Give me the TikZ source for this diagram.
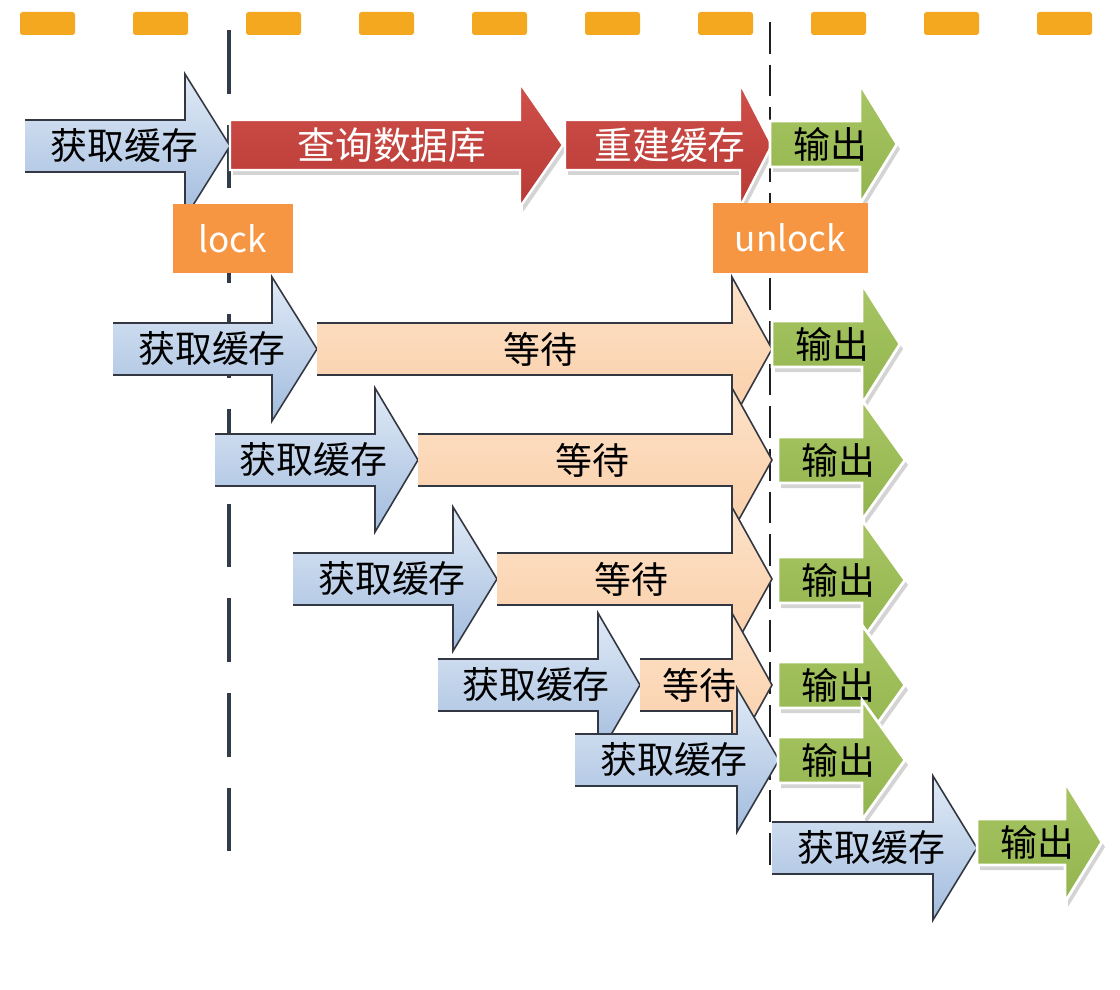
\documentclass[tikz,border=0pt]{standalone}
\usepackage{fontspec}
\setmainfont{Noto Sans CJK SC}
\definecolor{dashorange}{RGB}{243,168,32}
\definecolor{lockorange}{RGB}{246,150,66}
\definecolor{lineslate}{RGB}{50,60,72}
\definecolor{lineblack}{RGB}{30,32,38}
\definecolor{blueTop}{RGB}{224,234,246}
\definecolor{blueBot}{RGB}{162,188,222}
\definecolor{peachTop}{RGB}{253,226,200}
\definecolor{peachBot}{RGB}{250,206,168}
\definecolor{redTop}{RGB}{208,80,74}
\definecolor{redBot}{RGB}{184,58,54}
\definecolor{greenTop}{RGB}{168,198,100}
\definecolor{greenBot}{RGB}{146,180,78}
\definecolor{edgegrey}{RGB}{50,55,65}
% #1 tail x, #2 head base x, #3 tip x, #4 centre y, #5 shaft half, #6 head half, #7 style
\newcommand\arrowfill[7]{\path[#7] (#1,#4-#5) -- (#2,#4-#5) -- (#2,#4-#6) -- (#3,#4) -- (#2,#4+#6) -- (#2,#4+#5) -- (#1,#4+#5) -- cycle;}
\newcommand\arrowedge[7]{\draw[#7] (#1,#4-#5) -- (#2,#4-#5) -- (#2,#4-#6) -- (#3,#4) -- (#2,#4+#6) -- (#2,#4+#5) -- (#1,#4+#5);}
% blue "get cache" arrow: tail, base, tip, y, name
\newcommand\getcache[5]{%
  \arrowfill{#1}{#2}{#3}{#4}{26}{72}{bluefill}%
  \arrowedge{#1}{#2}{#3}{#4}{26}{72}{arrowline}%
  \node[cjk] (#5) at ({(#1+#3)/2-3},#4) {获取缓存};}
% peach "wait" arrow: tail, base, tip, y, text x, name
\newcommand\waitarrow[6]{%
  \arrowfill{#1}{#2}{#3}{#4}{26}{72}{peachfill}%
  \arrowedge{#1}{#2}{#3}{#4}{26}{72}{arrowline}%
  \node[cjk] (#6) at (#5,#4) {等待};}
% shiny arrow (red / green) with shadow and white rim
\newcommand\shinyarrow[7]{%
  \begin{scope}[shift={(3,5)}]\arrowfill{#1}{#2}{#3}{#4}{#5}{#6}{shadowfill}\end{scope}%
  \arrowfill{#1}{#2}{#3}{#4}{#5}{#6}{#7}}
\newcommand\outarrow[5]{%
  \shinyarrow{#1}{#2}{#3}{#4}{23}{60}{greenfill}%
  \node[cjk] (#5) at ({#1+60},#4) {输出};}
\begin{document}
\begin{tikzpicture}[x=0.02cm,y=-0.02cm,
  bluefill/.style={top color=blueTop,bottom color=blueBot},
  peachfill/.style={top color=peachTop,bottom color=peachBot},
  redfill/.style={top color=redTop,bottom color=redBot,draw=white,line width=1.4pt},
  greenfill/.style={top color=greenTop,bottom color=greenBot,draw=white,line width=1.6pt},
  shadowfill/.style={fill=black,opacity=0.17},
  arrowline/.style={draw=edgegrey,line width=0.9pt,line join=miter},
  cjk/.style={font=\fontsize{21}{21}\selectfont,inner sep=0pt,text=black},
  cjkw/.style={font=\fontsize{21.5}{21.5}\selectfont,inner sep=0pt,text=white},
  lockbox/.style={fill=lockorange,text=white,inner sep=0pt,font=\fontsize{20}{20}\selectfont},
  lockline/.style={draw=lineslate,line width=2.1pt,dash pattern=on 36.3pt off 17.6pt},
  unlockline/.style={draw=lineblack,line width=1.4pt,dash pattern=on 18.1pt off 6.2pt},
  topdash/.style={fill=dashorange,rounded corners=1.5pt}]
\fill[white] (0,0) rectangle (1120,990);
\useasboundingbox (0,0) rectangle (1120,990);
% top orange dashed band
\foreach \i in {0,...,9} \path[topdash] ({20+113*\i},12) rectangle ++(55,23);
% time markers
\coordinate (lockTop) at (229,30);
\coordinate (lockBot) at (229,854);
\coordinate (unlockTop) at (770,22);
\coordinate (unlockBot) at (770,874);
\draw[lockline] (lockTop) -- (lockBot);
\draw[unlockline] (unlockTop) -- (unlockBot);
% row 1
\getcache{25}{185}{230}{146}{g1}
\shinyarrow{230}{520}{563}{145}{25}{62}{redfill}
\node[cjkw] (q1) at (392,145) {查询数据库};
\shinyarrow{565}{740}{772}{145}{25}{62}{redfill}
\node[cjkw] (r1) at (670,145) {重建缓存};
\outarrow{770}{860}{897}{144}{o1}
% row 2
\getcache{113}{272}{317}{349}{g2}
\waitarrow{317}{732}{772}{349}{540}{w2}
\outarrow{772}{862}{900}{344}{o2}
% row 3
\getcache{215}{375}{418}{460}{g3}
\waitarrow{418}{732}{772}{460}{592}{w3}
\outarrow{778}{862}{905}{460}{o3}
% row 4
\getcache{293}{453}{497}{579}{g4}
\waitarrow{497}{732}{772}{579}{631}{w4}
\outarrow{778}{862}{905}{580}{o4}
% row 5
\getcache{438}{598}{640}{685}{g5}
\arrowfill{640}{732}{772}{685}{26}{72}{peachfill}
\arrowedge{640}{732}{772}{685}{26}{72}{arrowline}
\outarrow{778}{862}{905}{685}{o5}
% row 6
\getcache{575}{737}{779}{760}{g6}
\outarrow{778}{862}{905}{760}{o6}
\node[cjk] (w5) at (699,685) {等待};
% row 7
\getcache{772}{933}{977}{848}{g7}
\outarrow{977}{1065}{1102}{842}{o7}
% lock / unlock
\node[lockbox,minimum width=2.4cm,minimum height=1.38cm] (lock) at (233,238.5) {lock};
\node[lockbox,minimum width=3.1cm,minimum height=1.4cm] (unlock) at (790.5,238) {unlock};
\end{tikzpicture}
\end{document}
